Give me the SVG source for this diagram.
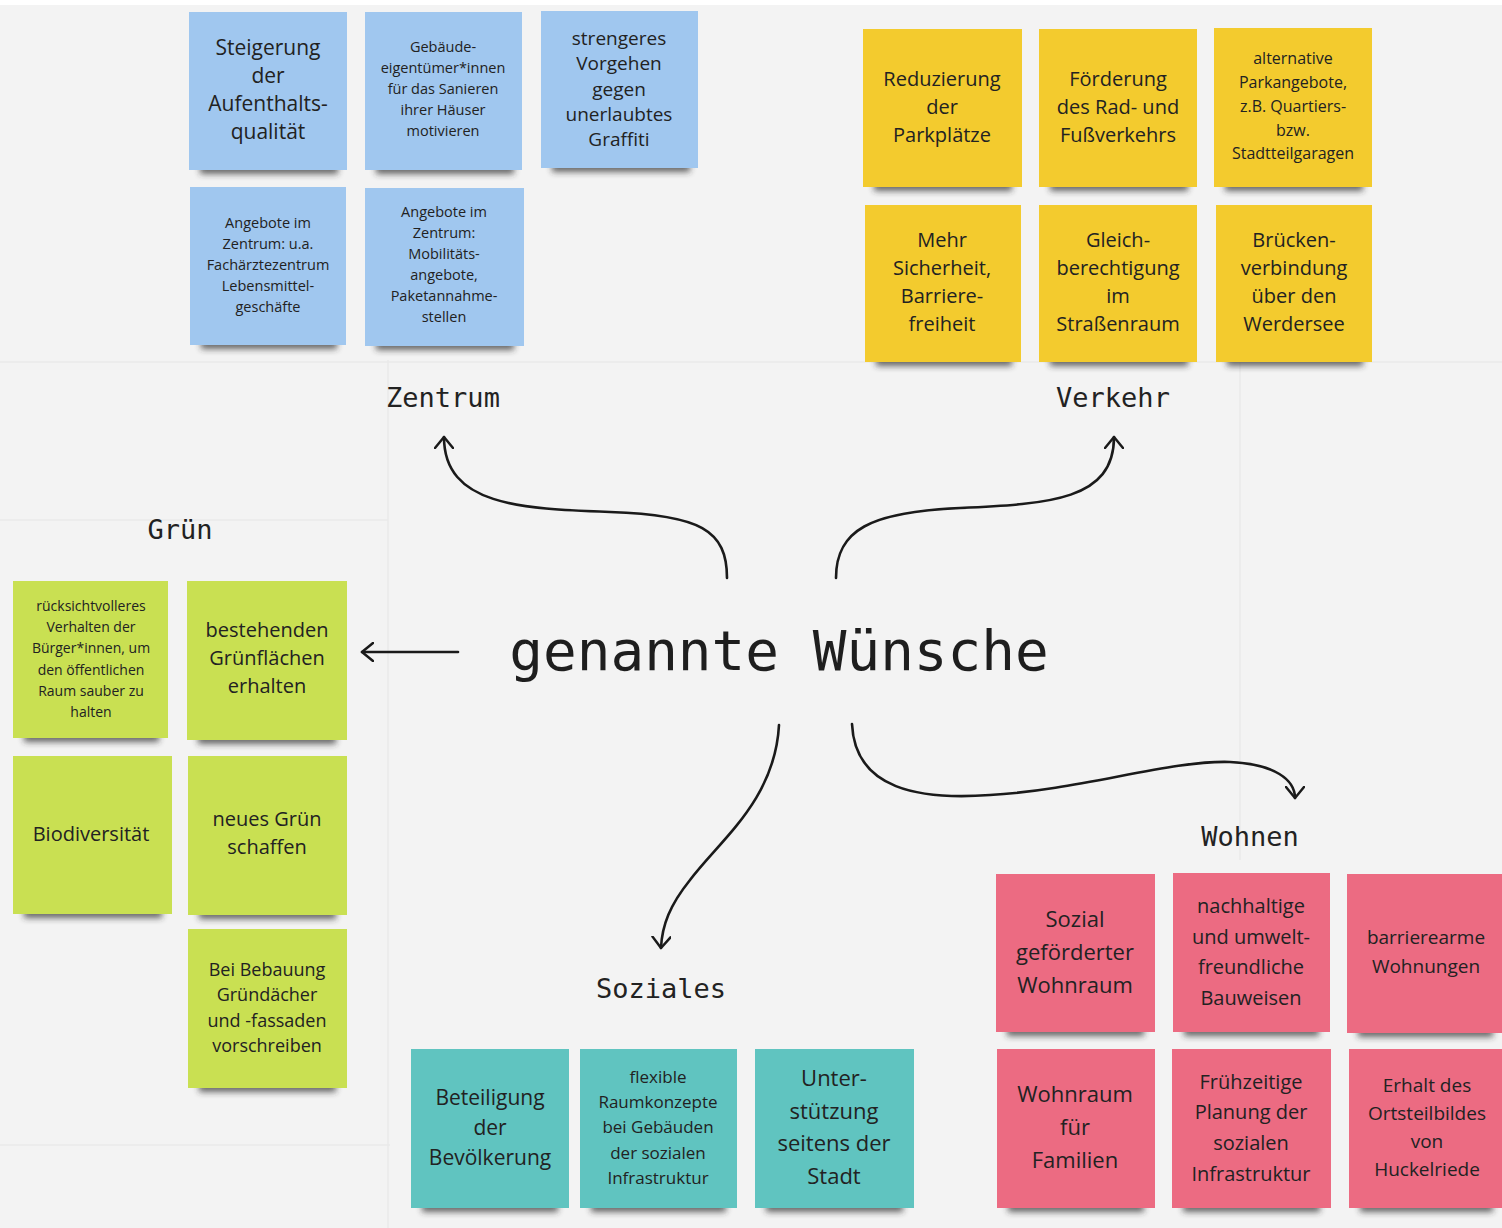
<svg xmlns="http://www.w3.org/2000/svg" width="1502" height="1228" viewBox="0 0 1502 1228">
<defs>
<filter id="blur" x="-20%" y="-100%" width="140%" height="300%"><feGaussianBlur stdDeviation="3"/></filter>
<marker id="chev" viewBox="0 0 20 20" refX="12" refY="10" markerWidth="20" markerHeight="20" markerUnits="userSpaceOnUse" orient="auto">
<path d="M1,1 L12,10 L1,19" fill="none" stroke="#1a1a1a" stroke-width="2.5" stroke-linecap="round" stroke-linejoin="round"/>
</marker>
</defs>
<style>
.n{font-family:"Open Sans","Noto Sans",sans-serif;fill:#222;text-anchor:middle;font-weight:500}
.lab{font-family:"DejaVu Sans Mono","Liberation Mono",monospace;fill:#222;text-anchor:middle;font-size:27px}
.sh{fill:#2a2a2a;opacity:.7;filter:url(#blur)}
.blue{fill:#a0c7ef}
.yel{fill:#f3cb2e}
.grn{fill:#c9e052}
.teal{fill:#60c4c0}
.red{fill:#ec6b82}
.c{fill:none;stroke:#1a1a1a;stroke-width:2.6;stroke-linecap:round;marker-end:url(#chev)}
.grid{stroke:#eaeaea;stroke-width:1.5}
</style>
<rect x="0" y="0" width="1502" height="1228" fill="#f3f3f3"/>
<rect x="0" y="0" width="1502" height="5" fill="#ffffff"/>
<g id="grid">
<line class="grid" x1="388" y1="360" x2="388" y2="1228"/>
<line class="grid" x1="1240" y1="360" x2="1240" y2="860"/>
<line class="grid" x1="0" y1="362" x2="1502" y2="362"/>
<line class="grid" x1="0" y1="520" x2="388" y2="520"/>
<line class="grid" x1="0" y1="1145" x2="390" y2="1145"/>
</g>

<g id="title"><text x="779" y="670" font-family="DejaVu Sans Mono, Liberation Mono, monospace" font-size="56" fill="#1e1e1e" text-anchor="middle">genannte Wünsche</text></g>

<g id="labels">
<text class="lab" x="443" y="407">Zentrum</text>
<text class="lab" x="1113" y="407">Verkehr</text>
<text class="lab" x="180" y="539">Grün</text>
<text class="lab" x="661" y="998">Soziales</text>
<text class="lab" x="1250" y="846">Wohnen</text>
</g>

<g id="connectors">
<path class="c" d="M727,578 C727,530 700,515 610,512 C520,509 444,505 444,437"/>
<path class="c" d="M836,578 C836,530 870,512 960,508 C1050,504 1114,500 1114,437"/>
<path class="c" d="M458,652 L362,652"/>
<path class="c" d="M779,725 C775,800 720,840 690,880 C670,905 662,925 661,948"/>
<path class="c" d="M852,724 C855,790 920,800 990,795 C1080,790 1170,760 1230,762 C1275,764 1295,780 1295,798"/>
</g>

<g id="zentrum-notes">
<g id="z1"><rect class="sh" x="200" y="164" width="138" height="10"/><rect class="blue" x="189" y="12" width="158" height="158"/>
<text class="n" font-size="21"><tspan x="268" y="55">Steigerung</tspan><tspan x="268" y="83">der</tspan><tspan x="268" y="111">Aufenthalts-</tspan><tspan x="268" y="139">qualität</tspan></text></g>
<g id="z2"><rect class="sh" x="376" y="164" width="138" height="10"/><rect class="blue" x="365" y="12" width="157" height="158"/>
<text class="n" font-size="14.5"><tspan x="443" y="52">Gebäude-</tspan><tspan x="443" y="73">eigentümer*innen</tspan><tspan x="443" y="94">für das Sanieren</tspan><tspan x="443" y="115">ihrer Häuser</tspan><tspan x="443" y="136">motivieren</tspan></text></g>
<g id="z3"><rect class="sh" x="552" y="162" width="138" height="10"/><rect class="blue" x="541" y="11" width="157" height="157"/>
<text class="n" font-size="19"><tspan x="619" y="45">strengeres</tspan><tspan x="619" y="70">Vorgehen</tspan><tspan x="619" y="96">gegen</tspan><tspan x="619" y="121">unerlaubtes</tspan><tspan x="619" y="146">Graffiti</tspan></text></g>
<g id="z4"><rect class="sh" x="201" y="339" width="136" height="10"/><rect class="blue" x="190" y="187" width="156" height="158"/>
<text class="n" font-size="14.5"><tspan x="268" y="228">Angebote im</tspan><tspan x="268" y="249">Zentrum: u.a.</tspan><tspan x="268" y="270">Fachärztezentrum</tspan><tspan x="268" y="291">Lebensmittel-</tspan><tspan x="268" y="312">geschäfte</tspan></text></g>
<g id="z5"><rect class="sh" x="376" y="340" width="138" height="10"/><rect class="blue" x="365" y="188" width="159" height="158"/>
<text class="n" font-size="14.5"><tspan x="444" y="217">Angebote im</tspan><tspan x="444" y="238">Zentrum:</tspan><tspan x="444" y="259">Mobilitäts-</tspan><tspan x="444" y="280">angebote,</tspan><tspan x="444" y="301">Paketannahme-</tspan><tspan x="444" y="322">stellen</tspan></text></g>
</g>

<g id="verkehr-notes">
<g id="v1"><rect class="sh" x="874" y="181" width="138" height="10"/><rect class="yel" x="863" y="29" width="159" height="158"/>
<text class="n" font-size="20"><tspan x="942" y="86">Reduzierung</tspan><tspan x="942" y="114">der</tspan><tspan x="942" y="142">Parkplätze</tspan></text></g>
<g id="v2"><rect class="sh" x="1050" y="181" width="138" height="10"/><rect class="yel" x="1039" y="29" width="158" height="158"/>
<text class="n" font-size="20"><tspan x="1118" y="86">Förderung</tspan><tspan x="1118" y="114">des Rad- und</tspan><tspan x="1118" y="142">Fußverkehrs</tspan></text></g>
<g id="v3"><rect class="sh" x="1225" y="181" width="138" height="10"/><rect class="yel" x="1214" y="28" width="158" height="159"/>
<text class="n" font-size="16"><tspan x="1293" y="64">alternative</tspan><tspan x="1293" y="88">Parkangebote,</tspan><tspan x="1293" y="112">z.B. Quartiers-</tspan><tspan x="1293" y="136">bzw.</tspan><tspan x="1293" y="159">Stadtteilgaragen</tspan></text></g>
<g id="v4"><rect class="sh" x="876" y="356" width="136" height="10"/><rect class="yel" x="865" y="205" width="156" height="157"/>
<text class="n" font-size="20"><tspan x="942" y="247">Mehr</tspan><tspan x="942" y="275">Sicherheit,</tspan><tspan x="942" y="303">Barriere-</tspan><tspan x="942" y="331">freiheit</tspan></text></g>
<g id="v5"><rect class="sh" x="1050" y="356" width="138" height="10"/><rect class="yel" x="1039" y="205" width="158" height="157"/>
<text class="n" font-size="20"><tspan x="1118" y="247">Gleich-</tspan><tspan x="1118" y="275">berechtigung</tspan><tspan x="1118" y="303">im</tspan><tspan x="1118" y="331">Straßenraum</tspan></text></g>
<g id="v6"><rect class="sh" x="1227" y="356" width="136" height="10"/><rect class="yel" x="1216" y="205" width="156" height="157"/>
<text class="n" font-size="20"><tspan x="1294" y="247">Brücken-</tspan><tspan x="1294" y="275">verbindung</tspan><tspan x="1294" y="303">über den</tspan><tspan x="1294" y="331">Werdersee</tspan></text></g>
</g>

<g id="gruen-notes">
<g id="g1"><rect class="sh" x="24" y="732" width="135" height="10"/><rect class="grn" x="13" y="581" width="155" height="157"/>
<text class="n" font-size="14"><tspan x="91" y="611">rücksichtvolleres</tspan><tspan x="91" y="632">Verhalten der</tspan><tspan x="91" y="653">Bürger*innen, um</tspan><tspan x="91" y="675">den öffentlichen</tspan><tspan x="91" y="696">Raum sauber zu</tspan><tspan x="91" y="717">halten</tspan></text></g>
<g id="g2"><rect class="sh" x="198" y="734" width="138" height="10"/><rect class="grn" x="187" y="581" width="160" height="159"/>
<text class="n" font-size="20"><tspan x="267" y="637">bestehenden</tspan><tspan x="267" y="665">Grünflächen</tspan><tspan x="267" y="693">erhalten</tspan></text></g>
<g id="g3"><rect class="sh" x="24" y="908" width="138" height="10"/><rect class="grn" x="13" y="756" width="159" height="158"/>
<text class="n" font-size="20"><tspan x="91" y="841">Biodiversität</tspan></text></g>
<g id="g4"><rect class="sh" x="199" y="909" width="137" height="10"/><rect class="grn" x="188" y="756" width="159" height="159"/>
<text class="n" font-size="20"><tspan x="267" y="826">neues Grün</tspan><tspan x="267" y="854">schaffen</tspan></text></g>
<g id="g5"><rect class="sh" x="199" y="1082" width="137" height="10"/><rect class="grn" x="188" y="929" width="159" height="159"/>
<text class="n" font-size="18"><tspan x="267" y="976">Bei Bebauung</tspan><tspan x="267" y="1001">Gründächer</tspan><tspan x="267" y="1027">und -fassaden</tspan><tspan x="267" y="1052">vorschreiben</tspan></text></g>
</g>

<g id="soziales-notes">
<g id="s1"><rect class="sh" x="422" y="1202" width="136" height="10"/><rect class="teal" x="411" y="1049" width="158" height="159"/>
<text class="n" font-size="21"><tspan x="490" y="1105">Beteiligung</tspan><tspan x="490" y="1135">der</tspan><tspan x="490" y="1165">Bevölkerung</tspan></text></g>
<g id="s2"><rect class="sh" x="591" y="1202" width="135" height="10"/><rect class="teal" x="580" y="1049" width="157" height="159"/>
<text class="n" font-size="17"><tspan x="658" y="1083">flexible</tspan><tspan x="658" y="1108">Raumkonzepte</tspan><tspan x="658" y="1133">bei Gebäuden</tspan><tspan x="658" y="1159">der sozialen</tspan><tspan x="658" y="1184">Infrastruktur</tspan></text></g>
<g id="s3"><rect class="sh" x="766" y="1202" width="137" height="10"/><rect class="teal" x="755" y="1049" width="159" height="159"/>
<text class="n" font-size="22"><tspan x="834" y="1086">Unter-</tspan><tspan x="834" y="1119">stützung</tspan><tspan x="834" y="1151">seitens der</tspan><tspan x="834" y="1184">Stadt</tspan></text></g>
</g>

<g id="wohnen-notes">
<g id="w1"><rect class="sh" x="1007" y="1026" width="137" height="10"/><rect class="red" x="996" y="874" width="159" height="158"/>
<text class="n" font-size="22"><tspan x="1075" y="927">Sozial</tspan><tspan x="1075" y="960">geförderter</tspan><tspan x="1075" y="993">Wohnraum</tspan></text></g>
<g id="w2"><rect class="sh" x="1184" y="1026" width="135" height="10"/><rect class="red" x="1173" y="873" width="157" height="159"/>
<text class="n" font-size="20"><tspan x="1251" y="913">nachhaltige</tspan><tspan x="1251" y="944">und umwelt-</tspan><tspan x="1251" y="974">freundliche</tspan><tspan x="1251" y="1005">Bauweisen</tspan></text></g>
<g id="w3"><rect class="sh" x="1358" y="1027" width="135" height="10"/><rect class="red" x="1347" y="874" width="157" height="159"/>
<text class="n" font-size="19"><tspan x="1426" y="944">barrierearme</tspan><tspan x="1426" y="973">Wohnungen</tspan></text></g>
<g id="w4"><rect class="sh" x="1008" y="1202" width="136" height="10"/><rect class="red" x="997" y="1049" width="158" height="159"/>
<text class="n" font-size="22"><tspan x="1075" y="1102">Wohnraum</tspan><tspan x="1075" y="1135">für</tspan><tspan x="1075" y="1168">Familien</tspan></text></g>
<g id="w5"><rect class="sh" x="1183" y="1202" width="137" height="10"/><rect class="red" x="1172" y="1049" width="159" height="159"/>
<text class="n" font-size="20"><tspan x="1251" y="1089">Frühzeitige</tspan><tspan x="1251" y="1119">Planung der</tspan><tspan x="1251" y="1150">sozialen</tspan><tspan x="1251" y="1181">Infrastruktur</tspan></text></g>
<g id="w6"><rect class="sh" x="1360" y="1202" width="133" height="10"/><rect class="red" x="1349" y="1049" width="155" height="159"/>
<text class="n" font-size="19"><tspan x="1427" y="1092">Erhalt des</tspan><tspan x="1427" y="1120">Ortsteilbildes</tspan><tspan x="1427" y="1148">von</tspan><tspan x="1427" y="1176">Huckelriede</tspan></text></g>
</g>
</svg>
